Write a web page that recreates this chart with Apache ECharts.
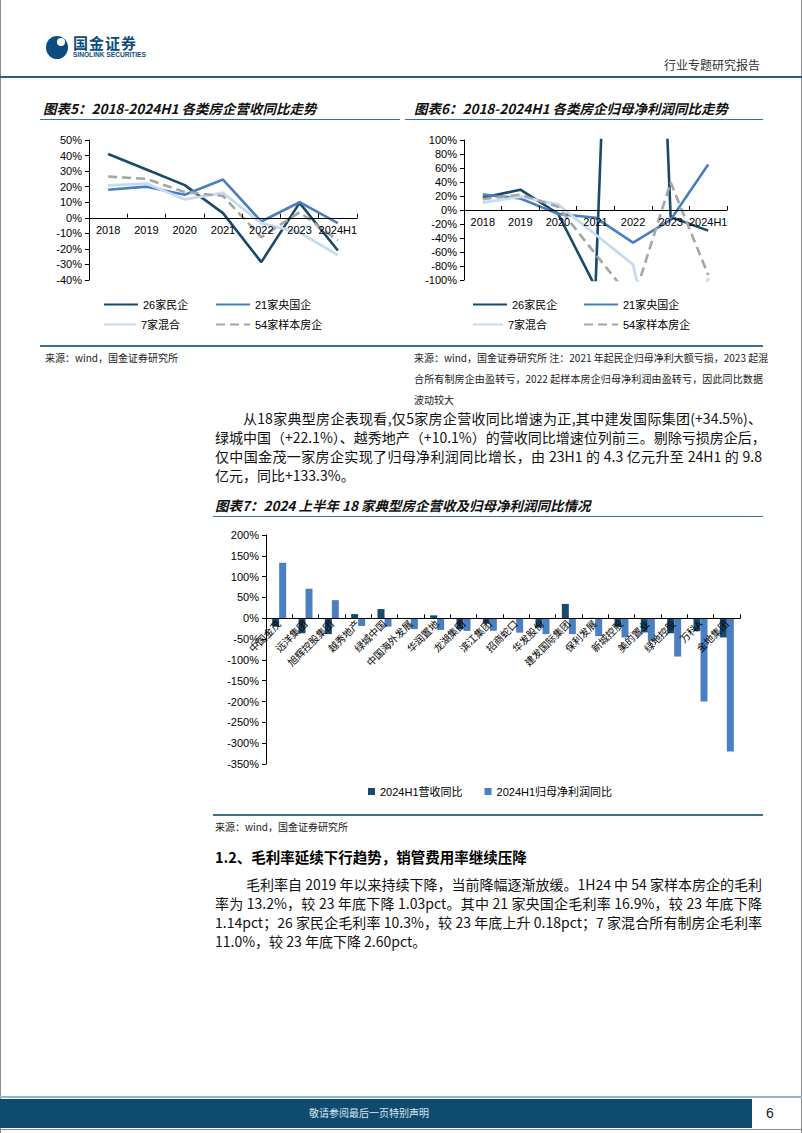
<!DOCTYPE html>
<html><head><meta charset="utf-8">
<script src="https://cdn.jsdelivr.net/npm/echarts@6/dist/echarts.min.js"></script>
<style>
html,body{margin:0;padding:0;background:#fff;}
#page{position:relative;width:802px;height:1133px;overflow:hidden;font-family:"Noto Sans CJK SC",sans-serif;color:#000;background:#fff;}
#chart{position:absolute;left:0;top:0;width:802px;height:1133px;z-index:1;}
.t{position:absolute;white-space:nowrap;z-index:2;}
.j{position:absolute;white-space:nowrap;text-align:justify;text-align-last:justify;z-index:2;}
.r{position:absolute;z-index:2;}
.ttl{font-size:13.5px;font-weight:bold;font-style:italic;color:#111;line-height:18px;}
.src{font-size:10px;line-height:14px;color:#222;}
.p{font-size:14px;line-height:19px;color:#111;}
</style></head>
<body><div id="page">
<div id="chart"></div>
<!-- borders -->
<div class="r" style="left:0;top:0;width:1px;height:1133px;background:#8a8a8a"></div>
<div class="r" style="left:801px;top:0;width:1px;height:1133px;background:#8a8a8a"></div>
<!-- header -->
<div class="r" style="left:46px;top:36px;width:22px;height:23px;border-radius:50%;background:#0f4c7e"></div>
<div class="r" style="left:57px;top:38px;width:8px;height:8px;border-radius:50%;background:#fff"></div>
<div class="t" style="left:73px;top:34px;font-size:15px;font-weight:bold;color:#0f4c7e;line-height:17px;letter-spacing:1px">国金证券</div>
<div class="t" style="left:73px;top:51px;font-size:6.6px;font-weight:bold;color:#0f4c7e;line-height:8px;font-family:'Liberation Sans',sans-serif">SINOLINK SECURITIES</div>
<div class="t" style="left:664px;top:58px;font-size:12px;line-height:14px;color:#333">行业专题研究报告</div>
<div class="r" style="left:0;top:76px;width:802px;height:1.5px;background:#2b5d7e"></div>
<!-- chart titles -->
<div class="t ttl" style="left:43px;top:99px">图表5：2018-2024H1 各类房企营收同比走势</div>
<div class="r" style="left:40px;top:119px;width:360px;height:1.2px;background:#3f6f8f"></div>
<div class="t ttl" style="left:414px;top:99px">图表6：2018-2024H1 各类房企归母净利润同比走势</div>
<div class="r" style="left:405px;top:119px;width:358px;height:1.2px;background:#3f6f8f"></div>
<div class="r" style="left:40px;top:345px;width:723px;height:1.5px;background:#3f6f8f"></div>
<div class="t src" style="left:45px;top:351px">来源：wind，国金证券研究所</div>
<div class="j src" style="left:414px;top:351px;width:349px">来源：wind，国金证券研究所 注：2021 年起民企归母净利大额亏损，2023 起混</div>
<div class="j src" style="left:414px;top:372px;width:349px">合所有制房企由盈转亏，2022 起样本房企归母净利润由盈转亏，因此同比数据</div>
<div class="t src" style="left:414px;top:393px">波动较大</div>
<!-- paragraph 1 -->
<div class="j p" style="left:243px;top:409px;width:519px">从18家典型房企表现看,仅5家房企营收同比增速为正,其中建发国际集团(+34.5%)、</div>
<div class="j p" style="left:215px;top:428px;width:547px">绿城中国（+22.1%）、越秀地产（+10.1%）的营收同比增速位列前三。剔除亏损房企后，</div>
<div class="j p" style="left:215px;top:447px;width:547px">仅中国金茂一家房企实现了归母净利润同比增长，由 23H1 的 4.3 亿元升至 24H1 的 9.8</div>
<div class="t p" style="left:215px;top:466px">亿元，同比+133.3%。</div>
<!-- chart 7 -->
<div class="t ttl" style="left:215px;top:496px">图表7：2024 上半年 18 家典型房企营收及归母净利润同比情况</div>
<div class="r" style="left:213px;top:516px;width:550px;height:1.2px;background:#3f6f8f"></div>
<div class="r" style="left:213px;top:814px;width:550px;height:1.5px;background:#3f6f8f"></div>
<div class="t src" style="left:215px;top:820px">来源：wind，国金证券研究所</div>
<!-- section 1.2 -->
<div class="t" style="left:215px;top:847px;font-size:14.5px;font-weight:bold;line-height:19px">1.2、毛利率延续下行趋势，销管费用率继续压降</div>
<div class="j p" style="left:246px;top:875px;width:516px">毛利率自 2019 年以来持续下降，当前降幅逐渐放缓。1H24 中 54 家样本房企的毛利</div>
<div class="j p" style="left:215px;top:894px;width:547px">率为 13.2%，较 23 年底下降 1.03pct。其中 21 家央国企毛利率 16.9%，较 23 年底下降</div>
<div class="j p" style="left:215px;top:913px;width:547px">1.14pct；26 家民企毛利率 10.3%，较 23 年底上升 0.18pct；7 家混合所有制房企毛利率</div>
<div class="t p" style="left:215px;top:932px">11.0%，较 23 年底下降 2.60pct。</div>
<!-- footer -->
<div class="r" style="left:0;top:1096px;width:802px;height:1.5px;background:#8fb8d0"></div>
<div class="r" style="left:0;top:1099px;width:752px;height:29px;background:#0f4b6f"></div>
<div class="t" style="left:309px;top:1106px;font-size:10px;line-height:14px;color:#dce6ee">敬请参阅最后一页特别声明</div>
<div class="t" style="left:766px;top:1104px;font-size:14px;line-height:18px;color:#222;font-family:'Liberation Sans',sans-serif">6</div>
<div class="r" style="left:0;top:1129px;width:802px;height:1px;background:#8a8a8a"></div>
</div>
<script>
// ---- data ----
const years = ['2018', '2019', '2020', '2021', '2022', '2023', '2024H1'];
const seriesNames = ['26家民企', '21家央国企', '7家混合', '54家样本房企'];
// 图表5 营收同比 (%)
const revPrivate = [41, 31, 21, 3, -28.5, 9.6, -21];
const revState = [18, 20, 14.8, 24.6, -2.4, 10, -3.4];
const revMixed = [20.8, 22, 11.8, 16, -3.5, -9.5, -24];
const revSample = [26.5, 25, 16.5, 14, -12.5, 3.6, -14.5];
// 图表6 归母净利润同比 (%)
const npPrivate = [17.5, 29, -5, -110, 1300, -10, -29.5];
const npState = [22, 16.5, -5.5, -11, -46.5, -14, 65];
const npMixed = [10.5, 19, 8, -35, -78, -320, -97];
const npSample = [15.5, 22, 4.8, -63, -130, 39.5, -93];
// 图表7
const companies = ['中国金茂', '远洋集团', '旭辉控股集团', '越秀地产', '绿城中国', '中国海外发展', '华润置地', '龙湖集团', '滨江集团', '招商蛇口', '华发股份', '建发国际集团', '保利发展', '新城控股', '美的置业', '绿地控股', '万科A', '金地集团'];
const revYoY = [-20, -36, -38, 10.1, 22.1, -2, 7, -26.5, -13, -2, -22.5, 34.5, 1, -20, -34, -36, -31, -46];
const npYoY = [133.3, 71, 43.5, -18.5, -20, -26, -28, -30.5, -30, -34.5, -38, -38, -43, -46, -55, -92, -200, -320];
const barNames = ['2024H1营收同比', '2024H1归母净利润同比'];
// axis ranges [min, max, interval]
const range5 = [-40, 50, 10];
const range6 = [-100, 100, 20];
const range7 = [-350, 200, 50];

const FONT = "'Liberation Sans', 'Noto Sans CJK SC', sans-serif";
const lineColors = ['#184a6c', '#4a7fbd', '#c6dbef', '#a6a6a6'];
const lineTypes = ['solid', 'solid', 'solid', [9, 5]];
const lineWidths = [2.6, 2.6, 2.8, 2.6];

// plot boxes
const boxes = [
  { left: 89, top: 140, width: 268, height: 140 },
  { left: 464, top: 140, width: 263, height: 140 },
  { left: 266, top: 535, width: 474, height: 229 }
];
const ranges = [range5, range6, range7];
// helper grids whose bottom edge sits on the zero line (carry the category axis)
const zeroGrids = boxes.map((b, i) => ({
  left: b.left, top: b.top, width: b.width,
  height: b.height * ranges[i][1] / (ranges[i][1] - ranges[i][0])
}));

function lineSeries(dataArr, gi) {
  return dataArr.map((d, i) => ({
    type: 'line', name: seriesNames[i], xAxisIndex: gi, yAxisIndex: gi,
    data: d, symbol: 'none', clip: true, animation: false,
    lineStyle: { color: lineColors[i], width: lineWidths[i], type: lineTypes[i] },
    itemStyle: { color: lineColors[i] },
    z: 2
  }));
}

function hiddenCat(gi, data) {
  return { type: 'category', gridIndex: gi, data: data, boundaryGap: true, show: false };
}
function zeroCat(gi, data, label) {
  return {
    type: 'category', gridIndex: gi, data: data, boundaryGap: true, position: 'bottom',
    axisLine: { show: true, onZero: false, lineStyle: { color: '#000', width: 1 } },
    axisTick: { show: true, inside: true, length: 4, lineStyle: { color: '#000' } },
    axisLabel: Object.assign({ color: '#000', fontSize: 11, fontFamily: FONT, margin: 7, interval: 0 }, label || {}),
    splitLine: { show: false }, z: 5
  };
}
function valAxis(gi, r) {
  return {
    type: 'value', gridIndex: gi, min: r[0], max: r[1], interval: r[2],
    axisLine: { show: true, lineStyle: { color: '#000', width: 1 } },
    axisTick: { show: true, length: 4, lineStyle: { color: '#000' } },
    axisLabel: { color: '#000', fontSize: 11, fontFamily: FONT, margin: 7, formatter: '{value}%' },
    splitLine: { show: false }
  };
}
function hiddenVal(gi) {
  return { type: 'value', gridIndex: gi, show: false, min: 0, max: 1 };
}
function legendOne(name, left, top, w) {
  return {
    data: [name], left: left, top: top, itemWidth: w, itemHeight: 12, selectedMode: false,
    padding: 0, itemStyle: { opacity: 0 },
    textStyle: { fontSize: 11, color: '#000', fontFamily: FONT }
  };
}

const chart = echarts.init(document.getElementById('chart'), null, { renderer: 'svg', width: 802, height: 1133 });
const option = {
  animation: false,
  backgroundColor: 'transparent',
  grid: [...boxes, ...zeroGrids],
  xAxis: [
    hiddenCat(0, years),
    hiddenCat(1, years),
    hiddenCat(2, companies),
    zeroCat(3, years),
    zeroCat(4, years, { margin: 6 }),
    zeroCat(5, companies, { fontSize: 10, margin: 4, rotate: 45 })
  ],
  yAxis: [
    valAxis(0, range5),
    valAxis(1, range6),
    valAxis(2, range7),
    hiddenVal(3), hiddenVal(4), hiddenVal(5)
  ],
  legend: [
    legendOne(seriesNames[0], 103, 299, 34),
    legendOne(seriesNames[1], 215, 299, 34),
    legendOne(seriesNames[2], 103, 319, 32),
    legendOne(seriesNames[3], 215, 319, 34),
    legendOne(seriesNames[0], 472, 299, 34),
    legendOne(seriesNames[1], 583, 299, 34),
    legendOne(seriesNames[2], 472, 319, 30),
    legendOne(seriesNames[3], 583, 319, 34),
    {
      data: barNames, left: 368, top: 786, itemWidth: 7, itemHeight: 7, itemGap: 22, icon: 'rect',
      selectedMode: false, padding: 0, textStyle: { fontSize: 11, color: '#000', fontFamily: FONT }
    }
  ],
  series: [
    ...lineSeries([revPrivate, revState, revMixed, revSample], 0),
    ...lineSeries([npPrivate, npState, npMixed, npSample], 1),
    {
      type: 'bar', name: barNames[0], xAxisIndex: 2, yAxisIndex: 2, data: revYoY,
      barWidth: 7, barGap: '0%', itemStyle: { color: '#18496e' }
    },
    {
      type: 'bar', name: barNames[1], xAxisIndex: 2, yAxisIndex: 2, data: npYoY,
      barWidth: 7, barGap: '0%', itemStyle: { color: '#4a80c1' }
    }
  ]
};
chart.setOption(option);
</script>
</body></html>
